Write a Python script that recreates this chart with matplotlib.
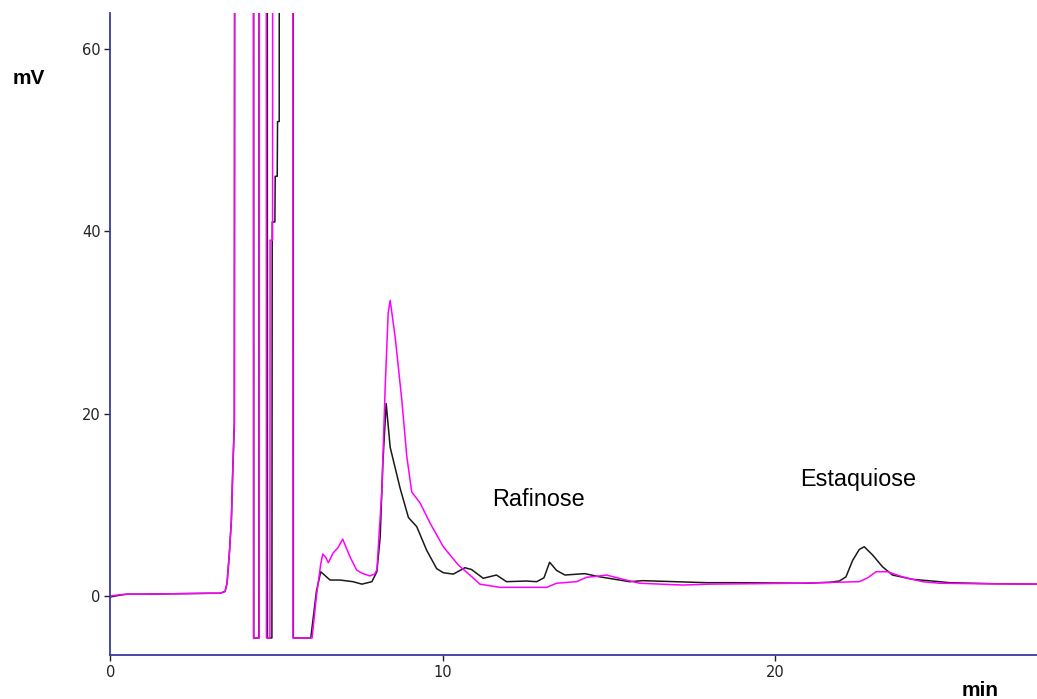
import matplotlib
matplotlib.use("Agg")
import matplotlib.pyplot as plt

# ---- data ----
black_t = [0, 0.3, 0.5, 1.0, 2.0, 3.0, 3.3, 3.45, 3.51, 3.58, 3.64, 3.68, 3.73, 3.745,
           4.31, 4.315, 4.47, 4.475, 4.72, 4.725, 4.86, 4.87, 4.95, 4.96, 5.02, 5.03, 5.08, 5.085,
           5.50, 5.505, 6.03, 6.10, 6.20, 6.33, 6.61, 6.91, 7.30, 7.57, 7.87, 8.02, 8.12, 8.20,
           8.30, 8.42, 8.72, 8.97, 9.22, 9.52, 9.82, 10.02, 10.32, 10.67, 10.87, 11.22, 11.62,
           11.92, 12.52, 12.83, 13.05, 13.22, 13.43, 13.68, 14.28, 14.73, 15.63, 16.03, 17.94,
           18.74, 20.94, 21.64, 21.94, 22.14, 22.34, 22.54, 22.69, 22.94, 23.24, 23.54, 24.14,
           24.95, 25.25, 26.5, 27.9]
black_mv = [-0.1, 0.1, 0.2, 0.2, 0.25, 0.3, 0.3, 0.5, 1.4, 4.7, 8.3, 13.5, 19, 100,
            100, -4.6, -4.6, 100, 100, -4.6, -4.6, 41, 41, 46, 46, 52, 52, 100,
            100, -4.6, -4.6, -2.5, 0.5, 2.66, 1.75, 1.75, 1.57, 1.3, 1.57, 2.66, 6.5, 14.6,
            21.1, 16.3, 11.8, 8.6, 7.6, 5.0, 3.0, 2.55, 2.4, 3.1, 2.9, 1.94, 2.3,
            1.57, 1.64, 1.57, 2.0, 3.7, 2.8, 2.3, 2.45, 2.1, 1.57, 1.68, 1.46,
            1.46, 1.4, 1.5, 1.64, 2.1, 3.9, 5.1, 5.4, 4.5, 3.2, 2.3, 1.83,
            1.57, 1.46, 1.35, 1.3]

magenta_t = [0, 0.3, 0.5, 1.0, 2.0, 3.0, 3.3, 3.45, 3.51, 3.58, 3.64, 3.68, 3.73, 3.74,
             4.30, 4.305, 4.48, 4.485, 4.69, 4.695, 4.80, 4.805, 4.88, 4.885, 5.49, 5.495,
             6.07, 6.20, 6.33, 6.39, 6.47, 6.56, 6.70, 6.85, 6.99, 7.21, 7.41, 7.57, 7.81,
             7.95, 8.02, 8.17, 8.27, 8.36, 8.42, 8.57, 8.77, 8.92, 9.07, 9.32, 9.62, 10.02,
             10.47, 10.82, 11.12, 11.72, 13.13, 13.43, 14.03, 14.33, 14.73, 14.93, 15.43,
             15.93, 17.23, 18.03, 20.74, 22.54, 22.8, 23.04, 23.39, 23.84, 24.44, 24.95,
             26.0, 27.9]
magenta_mv = [0.0, 0.15, 0.2, 0.2, 0.25, 0.3, 0.3, 0.5, 1.4, 4.7, 8.3, 13.5, 19, 100,
              100, -4.6, -4.6, 100, 100, -4.6, -4.6, 39, 39, 100, 100, -4.6,
              -4.6, 0.0, 3.5, 4.6, 4.3, 3.65, 4.7, 5.3, 6.24, 4.3, 2.85, 2.5, 2.2,
              2.4, 2.85, 11.6, 22.9, 31.0, 32.4, 28.4, 21.5, 15.3, 11.4, 10.2, 8.0, 5.4,
              3.4, 2.3, 1.3, 0.95, 0.95, 1.4, 1.57, 2.05, 2.2, 2.3, 1.83,
              1.4, 1.2, 1.3, 1.4, 1.57, 2.0, 2.66, 2.66, 2.1, 1.57, 1.4,
              1.35, 1.3]

x_ticks = [0, 10, 20]
y_ticks = [0, 20, 40, 60]
annotations = [("Rafinose", 12.87, 10.6), ("Estaquiose", 22.52, 12.75)]

# ---- figure ----
fig = plt.figure(figsize=(10.37, 6.99), dpi=100)
ax = fig.add_axes([0.1065, 0.0629, 0.8935, 0.9185])
ax.plot(black_t, black_mv, color="#1a1a1a", lw=1.1)
ax.plot(magenta_t, magenta_mv, color="#ff00ff", lw=1.1)

ax.set_xlim(0, 27.89)
ax.set_ylim(-6.47, 63.9)
ax.set_xticks(x_ticks)
ax.set_yticks(y_ticks)
ax.set_xticklabels([str(v) for v in x_ticks])
ax.set_yticklabels([str(v) for v in y_ticks])

spine_col = "#3a3a9c"
for s in ["top", "right"]:
    ax.spines[s].set_visible(False)
for s in ["left", "bottom"]:
    ax.spines[s].set_color(spine_col)
    ax.spines[s].set_linewidth(1.3)
ax.tick_params(axis="both", direction="out", length=4, width=1, color="#222222",
               labelsize=10.5, labelcolor="#222222", pad=3)
for lbl in ax.get_xticklabels() + ax.get_yticklabels():
    lbl.set_family("Liberation Sans Narrow")

for txt, x, y in annotations:
    ax.text(x, y, txt, fontsize=16.8, family="Liberation Sans", color="black",
            ha="center", va="center")

fig.text(29 / 1037, 1 - 78 / 699, "mV", fontsize=15, fontweight="bold",
         family="Liberation Sans", ha="center", va="center")
fig.text(980 / 1037, 1 - 690 / 699, "min", fontsize=15, fontweight="bold",
         family="Liberation Sans", ha="center", va="center")

fig.savefig("out.png", dpi=100)
